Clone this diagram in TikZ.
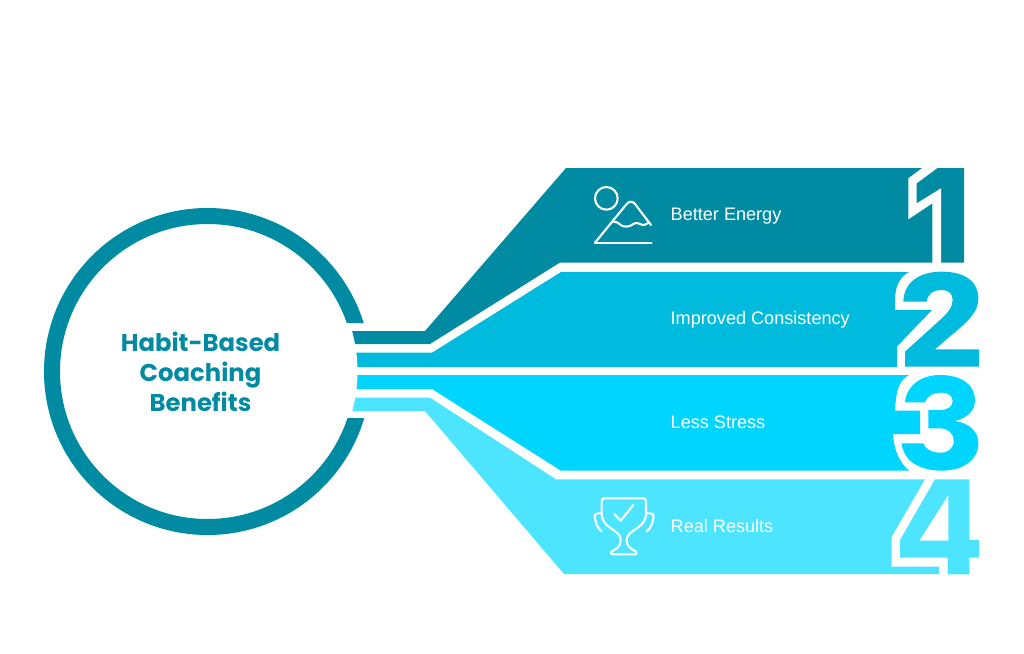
\documentclass[tikz,border=0pt]{standalone}
\usepackage{fontspec}
\setmainfont{Liberation Sans}
\newfontfamily\titlefont[Scale=1]{Poppins}
\definecolor{cA}{HTML}{008BA3}
\definecolor{cB}{HTML}{00BBDD}
\definecolor{cC}{HTML}{00D5FF}
\definecolor{cD}{HTML}{4DE4FF}
\tikzset{
  zoomA/.style={shift={(880,160)},x=0.3333pt,y=-0.3333pt},
  zoomB/.style={shift={(880,365)},x=0.3333pt,y=-0.3333pt},
  lab/.style={text=white,anchor=base west,inner sep=0pt,font=\fontsize{18.1}{22}\selectfont},
  ttl/.style={text=cA,inner sep=0pt,font=\titlefont\bfseries\fontsize{24.3}{30}\selectfont,align=center},
  icon/.style={draw=white,line width=2.1pt,line cap=round,line join=round}
}
\begin{document}
\begin{tikzpicture}[x=1pt,y=-1pt]
\useasboundingbox (0,0) rectangle (1024,653);
\fill[white] (0,0) rectangle (1024,653);
% band 1
\fill[cA] (340,331) -- (425,331) -- (566,168) -- (964,168) -- (964,262.5) -- (560,262.5) -- (430,344) -- (340,344) -- cycle;
\begin{scope}[zoomA]
\fill[white] (135,18) -- (85,55) -- (85,178) -- (157,130) -- (157,310) -- (183,310) -- (183,85) -- (110,130) -- (110,70) -- (180,18) -- cycle;
\end{scope}
% band 2
\fill[cB] (340,352.7) -- (432,352.7) -- (561,272) -- (909,272)
  .. controls (899,277) and (895,288) .. (895,300) -- (895,310) -- (932,310) -- (897,346.5) -- (897,367) -- (340,367) -- cycle;
\begin{scope}[zoomA]
\fill[cB] (70,425) .. controls (72,365) and (120,335) .. (185,335)
  .. controls (255,335) and (295,365) .. (295,415)
  .. controls (295,450) and (275,470) .. (250,495)
  -- (165,568) -- (297,568) -- (297,620) -- (75,620) -- (75,575) -- (180,480)
  .. controls (205,458) and (218,440) .. (218,420)
  .. controls (218,400) and (205,390) .. (185,390)
  .. controls (160,390) and (142,403) .. (140,425) -- cycle;
\end{scope}
% band 3
\fill[cC] (340,375) -- (909,375)
  .. controls (898,381) and (896,392) .. (895,410.7) -- (920,410.7) -- (920,434) -- (893,434)
  .. controls (894,450) and (899,462) .. (909,470.7) -- (561,470.7) -- (432,389) -- (340,389) -- cycle;
\begin{scope}[zoomB]
\fill[cC] (75,112) .. controls (80,60) and (125,30) .. (180,30)
  .. controls (245,30) and (285,60) .. (285,105)
  .. controls (285,135) and (265,158) .. (225,168)
  .. controls (270,175) and (295,200) .. (295,235)
  .. controls (295,285) and (250,317) .. (185,317)
  .. controls (115,317) and (70,285) .. (65,235) -- (130,235)
  .. controls (135,252) and (155,263) .. (182,263)
  .. controls (205,263) and (221,250) .. (221,228)
  .. controls (221,205) and (205,190) .. (180,190) -- (145,190) -- (145,135) -- (180,135)
  .. controls (203,135) and (218,125) .. (218,108)
  .. controls (218,93) and (205,83) .. (185,83)
  .. controls (160,83) and (140,93) .. (135,112) -- cycle;
\end{scope}
% band 4
\fill[cD] (340,397.7) -- (430,397.7) -- (556,479.3) -- (925,479.3) -- (891.7,536.7) -- (891.7,566.7) -- (939,566.7) -- (939,574) -- (564,574) -- (425,411) -- (340,411) -- cycle;
\begin{scope}[zoomB]
\fill[cD,even odd rule] (165,343) -- (268,343) -- (268,525) -- (297,525) -- (297,578) -- (268,578) -- (268,628) -- (203,628) -- (203,578) -- (60,578) -- (60,525) -- cycle
  (205,390) -- (205,527) -- (118,527) -- cycle;
\end{scope}
% ring
\fill[white] (207.5,371.5) circle (150);
\begin{scope}
\clip (0,0) -- (1024,0) -- (1024,323) -- (340,323) -- (340,418) -- (1024,418) -- (1024,653) -- (0,653) -- cycle;
\draw[cA,line width=16pt] (207.5,371.5) circle (155.5);
\end{scope}
% title
\node[ttl] (title) at (200.5,372) {Habit-Based\\Coaching\\Benefits};
% labels
\node[lab] (l1) at (670.5,220) {Better Energy};
\node[lab] (l2) at (670.5,324) {Improved Consistency};
\node[lab] (l3) at (670.5,428) {Less Stress};
\node[lab] (l4) at (670.5,532) {Real Results};
% mountain icon
\begin{scope}[shift={(585,180)},x=0.3333pt,y=-0.3333pt]
\draw[icon] (64,55) circle (34);
\draw[icon] (30,188) -- (200,188);
\draw[icon] (30,188) -- (125,72) .. controls (133,63) and (143,63) .. (150,72) -- (198,135);
\draw[icon] (85,125) .. controls (105,125) and (105,142) .. (125,140) .. controls (145,138) and (145,125) .. (160,130) .. controls (172,134) and (175,140) .. (190,128);
\end{scope}
% trophy icon
\begin{scope}[shift={(585,490)},x=0.3333pt,y=-0.3333pt]
\draw[icon] (50,35) .. controls (50,28) and (53,25) .. (58,25) -- (175,25) .. controls (180,25) and (183,28) .. (183,35) -- (183,70)
  .. controls (183,100) and (160,112) .. (145,122) .. controls (130,132) and (125,140) .. (125,152)
  .. controls (125,170) and (140,178) .. (152,184) .. controls (157,190) and (154,193) .. (150,193) -- (85,193)
  .. controls (78,193) and (75,190) .. (80,184) .. controls (92,178) and (107,170) .. (107,152)
  .. controls (107,140) and (102,132) .. (88,122) .. controls (73,112) and (50,100) .. (50,70) -- cycle;
\draw[icon] (48,70) -- (38,70) .. controls (30,70) and (28,75) .. (30,85) .. controls (33,102) and (38,115) .. (50,124);
\draw[icon] (185,70) -- (197,70) .. controls (205,70) and (207,75) .. (205,85) .. controls (202,102) and (197,115) .. (185,124);
\draw[icon] (88,72) -- (107,92) -- (145,45);
\end{scope}
\end{tikzpicture}
\end{document}
